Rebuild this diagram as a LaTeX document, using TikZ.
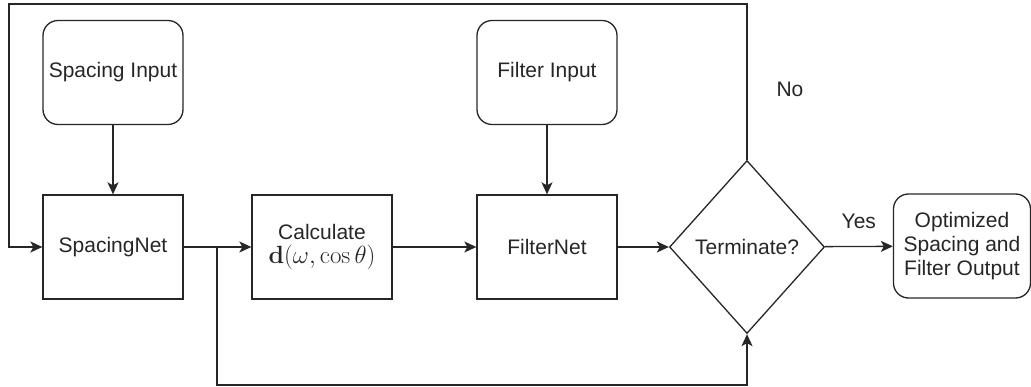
\documentclass[tikz,border=0pt]{standalone}
\usepackage{amsmath}
\usepackage[no-math]{fontspec}
\setmainfont{Liberation Sans}
\usetikzlibrary{shapes.geometric,arrows.meta}
\begin{document}
\begin{tikzpicture}[x=1pt,y=-1pt,
  every node/.style={font=\fontsize{21}{24}\selectfont, text=black!85, align=center},
  box/.style={draw=black!85, line width=1.3pt, minimum width=140pt, minimum height=104pt, inner sep=2pt},
  rbox/.style={box, rounded corners=15pt},
  decision/.style={draw=black!85, line width=1.3pt, diamond, minimum width=155pt, minimum height=173pt, inner sep=0pt},
  flow/.style={draw=black!85, line width=1.3pt, -{Stealth[length=12pt,width=11pt,inset=3pt]}},
  lbl/.style={font=\fontsize{21}{24}\selectfont}
]
\useasboundingbox (0,0) rectangle (1031,387);

% blocks
\node[rbox] (sin)  at (113,72.5) {Spacing Input};
\node[box]  (snet) at (113,247)  {SpacingNet};
\node[box]  (calc) at (322,247)  {Calculate\\{\fontsize{26.5}{28}\selectfont$\mathbf{d}(\omega,\cos\theta)$}};
\node[rbox] (fin)  at (547,72.5) {Filter Input};
\node[box]  (fnet) at (547,247)  {FilterNet};
\node[decision] (term) at (747,247) {Terminate?};
\node[rbox, minimum width=137pt] (out) at (962,246) {Optimized\\Spacing and\\Filter Output};

% loop-back and bypass routing points
\coordinate (topR) at (747,4);
\coordinate (topL) at (9,4);
\coordinate (sideL) at (9,247);
\coordinate (br) at (217,247);
\coordinate (botL) at (217,385);
\coordinate (botR) at (747,385);

% main flow
\draw[flow] (sin) -- (snet);
\draw[flow] (snet) -- (calc);
\draw[flow] (calc) -- (fnet);
\draw[flow] (fin) -- (fnet);
\draw[flow] (fnet) -- (term);
\draw[flow] (term) -- node[above=14pt, lbl] {Yes} (out);

% "No" branch back to SpacingNet
\draw[flow] (term.north) -- (topR) -- (topL) -- (sideL) -- (snet.west);
\node[lbl] (no) at (790,89) {No};

% bypass from SpacingNet output to the decision
\draw[flow] (br) -- (botL) -- (botR) -- (term.south);
\end{tikzpicture}
\end{document}
